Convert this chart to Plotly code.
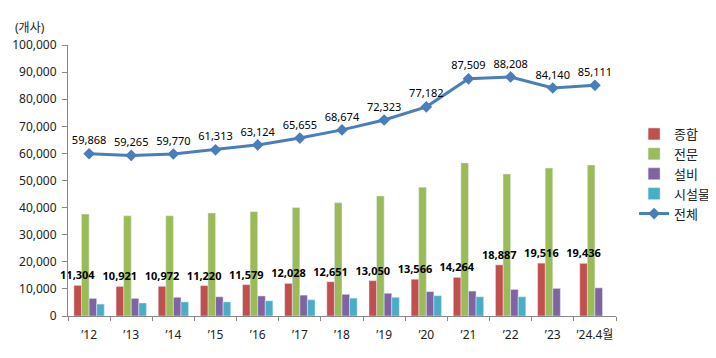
import plotly.graph_objects as go

categories = ["’12", "’13", "’14", "’15", "’16", "’17", "’18", "’19", "’20", "’21", "’22", "’23", "’24.4월"]
jonghap = [11304, 10921, 10972, 11220, 11579, 12028, 12651, 13050, 13566, 14264, 18887, 19516, 19436]
jeonmun = [37600, 37000, 37000, 38000, 38500, 40000, 41800, 44300, 47500, 56500, 52400, 54600, 55700]
seolbi = [6500, 6500, 6900, 7100, 7400, 7700, 8000, 8400, 9000, 9200, 9800, 10200, 10400]
siseolmul = [4400, 4800, 5200, 5200, 5600, 6000, 6600, 6900, 7500, 7100, 7100, None, None]
total = [59868, 59265, 59770, 61313, 63124, 65655, 68674, 72323, 77182, 87509, 88208, 84140, 85111]

FONT = "Noto Sans, Noto Sans CJK KR, sans-serif"
W = 0.18

fig = go.Figure()
fig.add_trace(go.Bar(x=categories, y=jeonmun, name="전문", marker_color="#9BBB59",
                     width=W, offset=-0.18, legendrank=2))
fig.add_trace(go.Bar(x=categories, y=seolbi, name="설비", marker_color="#8064A2",
                     width=W, offset=0.0, legendrank=3))
fig.add_trace(go.Bar(x=categories, y=siseolmul, name="시설물", marker_color="#4BACC6",
                     width=W, offset=0.18, legendrank=4))
fig.add_trace(go.Bar(x=categories, y=jonghap, name="종합", marker_color="#C0504D",
                     width=W, offset=-0.36, legendrank=1,
                     text=[f"{v:,}" for v in jonghap], textposition="outside",
                     constraintext="none", cliponaxis=False,
                     textfont=dict(family=FONT, size=11, color="black", weight="bold")))
fig.add_trace(go.Scatter(x=categories, y=total, name="전체", mode="lines+markers+text",
                         line=dict(color="#4A7EBB", width=3),
                         marker=dict(symbol="diamond", size=9, color="#4A7EBB"),
                         text=[f"{v:,}" for v in total], textposition="top center",
                         textfont=dict(family=FONT, size=11, color="black"),
                         cliponaxis=False, legendrank=5))

# page body has an 8px default margin, so the figure is sized to fit the 716x358 window
fig.update_layout(
    width=708, height=350,
    margin=dict(l=60, r=100, t=37, b=42, autoexpand=False),
    barmode="overlay",
    plot_bgcolor="white", paper_bgcolor="white",
    font=dict(family=FONT, size=12, color="#222"),
    legend=dict(x=1.033, y=0.727, xanchor="left", yanchor="top",
                font=dict(size=13), tracegroupgap=0, itemwidth=30),
    showlegend=True,
)
fig.update_xaxes(range=[-0.5, len(categories) - 0.5],
                 showline=True, linecolor="#888", ticks="outside", tickson="boundaries",
                 ticklen=4, tickcolor="#888", showgrid=False, tickangle=0,
                 ticklabelstandoff=8,
                 automargin=False, tickfont=dict(size=12, color="#222"))
fig.update_yaxes(range=[0, 100000], dtick=10000, tickformat=",", showline=True,
                 linecolor="#888", ticks="outside", ticklen=5, tickcolor="#888",
                 ticklabelstandoff=3,
                 showgrid=False, zeroline=False, automargin=False,
                 tickfont=dict(size=12, color="#222"))
fig.add_annotation(text="(개사)", xref="paper", yref="paper", x=-0.1, y=1.066,
                   xanchor="left", yanchor="middle", showarrow=False,
                   font=dict(size=12, color="#222"))
fig.write_html("out.html")
